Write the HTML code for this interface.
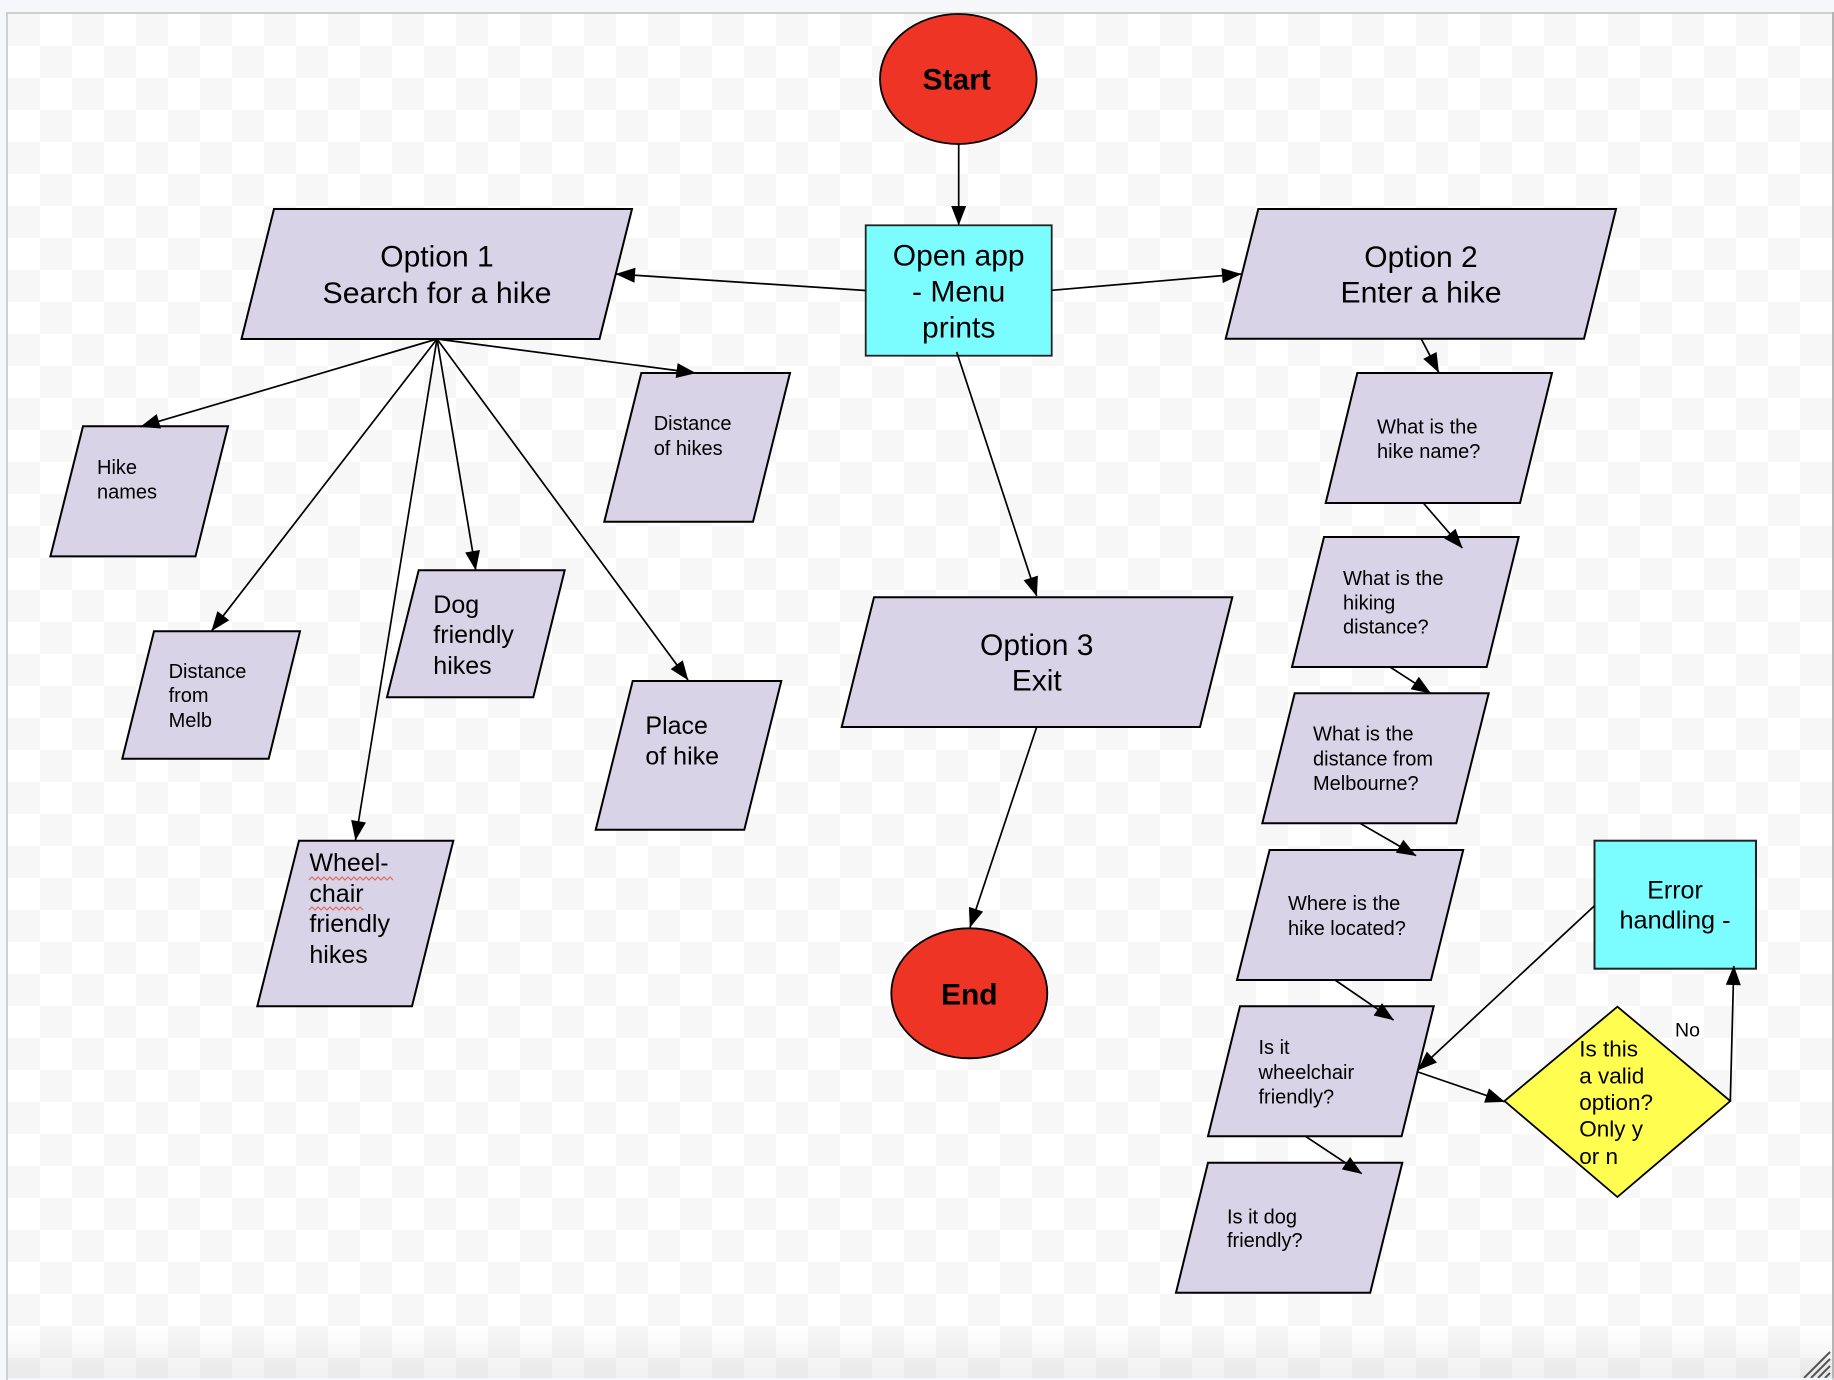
<!DOCTYPE html>
<html>
<head>
<meta charset="utf-8">
<title>Hike app flowchart</title>
<style>
html,body{margin:0;padding:0;width:1834px;height:1378px;overflow:hidden;background:#f5f7fa}
#c{position:absolute;left:6px;top:12px;width:1824px;height:1366px;border:2px solid #cfcfcf;border-bottom:0;box-sizing:content-box}
#k{position:absolute;left:8px;top:14px;width:1824px;height:1364px;background-color:#fff;
background-image:conic-gradient(#f7f7f7 25%,#fff 0 50%,#f7f7f7 0 75%,#fff 0);background-size:64px 64px;background-position:32px 0}
#g{position:absolute;left:8px;top:1325px;width:1824px;height:53px;background:linear-gradient(to bottom,rgba(0,0,0,0),rgba(0,0,0,.06))}
#r{position:absolute;left:1832px;top:12px;width:2px;height:1366px;background:#b5b5b5}
svg{position:absolute;left:0;top:0}
text{font-family:"Liberation Sans",Arial,sans-serif;fill:#000}
.s{fill:#d8d3e6;stroke:#000;stroke-width:2}
.l{stroke:#000;stroke-width:1.7;fill:none;marker-end:url(#a)}
.t30{font-size:30px}.t25{font-size:25px}.t20{font-size:20px}
.m{text-anchor:middle}
.b{font-weight:bold}
</style>
</head>
<body>
<div id="k"></div>
<div id="g"></div>
<div id="c"></div>
<div id="r"></div>
<svg width="1834" height="1378" viewBox="0 0 1834 1378" xmlns="http://www.w3.org/2000/svg">
<defs>
<marker id="a" markerUnits="userSpaceOnUse" markerWidth="20" markerHeight="16" refX="19" refY="7.5" orient="auto" overflow="visible">
<path d="M0,0 L19.5,7.5 L0,15 Z" fill="#000"/>
</marker>
</defs>

<ellipse cx="958.3" cy="79" rx="78.3" ry="65" fill="#ee3424" stroke="#000" stroke-width="1.8"/>
<ellipse cx="969.3" cy="993.3" rx="78" ry="65" fill="#ee3424" stroke="#000" stroke-width="1.8"/>
<rect x="865.7" y="225.3" width="186" height="130.4" fill="#7bfdff" stroke="#222" stroke-width="1.8"/>
<rect x="1594.5" y="840.7" width="161.5" height="128" fill="#7bfdff" stroke="#222" stroke-width="2"/>
<polygon points="1504.5,1101 1617.4,1006.7 1730.3,1101 1617.4,1197" fill="#fffd50" stroke="#000" stroke-width="1.8"/>

<polygon class="s" points="274,209 632,209 599.5,339 241.5,339"/>
<polygon class="s" points="1258.3,209 1616,209 1584,338.7 1225.7,338.7"/>
<polygon class="s" points="874,597.3 1232.3,597.3 1200,727 841.7,727"/>
<polygon class="s" points="83,426.3 228,426.3 195.5,556.4 50.4,556.4"/>
<polygon class="s" points="641.3,373 790,373 753,521.7 604.3,521.7"/>
<polygon class="s" points="632.7,681 781.3,681 744.3,829.7 595.7,829.7"/>
<polygon class="s" points="154,631.3 300,631.3 268.7,758.7 122.3,758.7"/>
<polygon class="s" points="418.7,570.3 564.7,570.3 533.3,697.3 387,697.3"/>
<polygon class="s" points="299,840.7 453.3,840.7 412,1006.3 257.3,1006.3"/>
<polygon class="s" points="1357.3,373 1552,373 1520,503 1325.7,503"/>
<polygon class="s" points="1324,537 1518.7,537 1486.7,667 1292,667"/>
<polygon class="s" points="1294.7,693.3 1488.7,693.3 1456.3,823.3 1262.3,823.3"/>
<polygon class="s" points="1269.6,850 1463.2,850 1431,980 1237,980"/>
<polygon class="s" points="1240,1006.3 1433.7,1006.3 1401.6,1136.3 1208,1136.3"/>
<polygon class="s" points="1208,1162.7 1402.3,1162.7 1370.2,1292.7 1176,1292.7"/>

<line class="l" x1="958.7" y1="144" x2="958.7" y2="225"/>
<line class="l" x1="1051.7" y1="290.3" x2="1241" y2="274"/>
<line class="l" x1="865.7" y1="290.5" x2="616" y2="274"/>
<line class="l" x1="956.7" y1="352" x2="1036.7" y2="596"/>
<line class="l" x1="1036.7" y1="727" x2="970" y2="927.3"/>

<line class="l" x1="437" y1="339" x2="140.6" y2="426.7"/>
<line class="l" x1="437" y1="339" x2="695.5" y2="373"/>
<line class="l" x1="437" y1="339" x2="475.7" y2="570"/>
<line class="l" x1="437" y1="339" x2="211.7" y2="630.7"/>
<line class="l" x1="437" y1="339" x2="355.5" y2="840"/>
<line class="l" x1="437" y1="339" x2="688" y2="680"/>

<line class="l" x1="1421.3" y1="339" x2="1438.7" y2="372.3"/>
<line class="l" x1="1423.3" y1="503" x2="1462.3" y2="548"/>
<line class="l" x1="1390" y1="667" x2="1430.7" y2="693.3"/>
<line class="l" x1="1360" y1="823.3" x2="1416" y2="855.7"/>
<line class="l" x1="1335" y1="980" x2="1393.5" y2="1020"/>
<line class="l" x1="1305.5" y1="1136.3" x2="1361.8" y2="1173.7"/>
<line class="l" x1="1594.5" y1="905.7" x2="1418" y2="1070"/>
<line class="l" x1="1418" y1="1072" x2="1504.5" y2="1101.7"/>
<line class="l" x1="1730.3" y1="1101" x2="1733.8" y2="966"/>

<text class="t30 b m" x="956.7" y="89.3">Start</text>
<text class="t30 b m" x="969.3" y="1004.3">End</text>
<text class="t30 m" x="958.7" y="265.5">Open app</text>
<text class="t30 m" x="958.7" y="301.5">- Menu</text>
<text class="t30 m" x="958.7" y="337.5">prints</text>
<text class="t30 m" x="437" y="266.7">Option 1</text>
<text class="t30 m" x="437" y="303" textLength="229" lengthAdjust="spacingAndGlyphs">Search for a hike</text>
<text class="t30 m" x="1421" y="266.8">Option 2</text>
<text class="t30 m" x="1421" y="302.7" textLength="161" lengthAdjust="spacingAndGlyphs">Enter a hike</text>
<text class="t30 m" x="1036.7" y="655">Option 3</text>
<text class="t30 m" x="1036.7" y="690.7">Exit</text>

<text class="t20" x="97" y="474.2">Hike</text>
<text class="t20" x="97" y="498.7">names</text>
<text class="t20" x="653.7" y="430">Distance</text>
<text class="t20" x="653.7" y="455">of hikes</text>
<text class="t25" x="645.4" y="734">Place</text>
<text class="t25" x="645.4" y="764.3">of hike</text>
<text class="t20" x="168.6" y="678">Distance</text>
<text class="t20" x="168.6" y="702">from</text>
<text class="t20" x="168.6" y="727">Melb</text>
<text class="t25" x="433.3" y="613">Dog</text>
<text class="t25" x="433.3" y="643">friendly</text>
<text class="t25" x="433.3" y="674">hikes</text>
<text class="t25" x="309.4" y="871.2">Wheel-</text>
<text class="t25" x="309.4" y="902">chair</text>
<text class="t25" x="309.4" y="932.2">friendly</text>
<text class="t25" x="309.4" y="962.8">hikes</text>
<path d="M309 880l3-3 3 3 3-3 3 3 3-3 3 3 3-3 3 3 3-3 3 3 3-3 3 3 3-3 3 3 3-3 3 3 3-3 3 3 3-3 3 3 3-3 3 3 3-3 3 3 3-3 3 3 3-3 3 3" fill="none" stroke="#e06a5f" stroke-width="1.2"/>
<path d="M309 910l3-3 3 3 3-3 3 3 3-3 3 3 3-3 3 3 3-3 3 3 3-3 3 3 3-3 3 3 3-3 3 3 3-3 3 3" fill="none" stroke="#e06a5f" stroke-width="1.2"/>

<text class="t20" x="1377" y="433.3" textLength="100.5" lengthAdjust="spacingAndGlyphs">What is the</text>
<text class="t20" x="1377" y="458">hike name?</text>
<text class="t20" x="1343" y="585" textLength="100.5" lengthAdjust="spacingAndGlyphs">What is the</text>
<text class="t20" x="1343" y="609.3">hiking</text>
<text class="t20" x="1343" y="633.7">distance?</text>
<text class="t20" x="1313" y="740.7" textLength="100.5" lengthAdjust="spacingAndGlyphs">What is the</text>
<text class="t20" x="1313" y="765.7">distance from</text>
<text class="t20" x="1313" y="790">Melbourne?</text>
<text class="t20" x="1288" y="910">Where is the</text>
<text class="t20" x="1288" y="935">hike located?</text>
<text class="t20" x="1258.5" y="1053.8">Is it</text>
<text class="t20" x="1258.5" y="1079">wheelchair</text>
<text class="t20" x="1258.5" y="1103.3">friendly?</text>
<text class="t20" x="1227" y="1223.3">Is it dog</text>
<text class="t20" x="1227" y="1247">friendly?</text>

<text class="t25 m" x="1675" y="898.3">Error</text>
<text class="t25 m" x="1675" y="928.3" textLength="111" lengthAdjust="spacingAndGlyphs">handling -</text>
<g style="font-size:22.5px">
<text x="1579.2" y="1056.7">Is this</text>
<text x="1579.2" y="1083.3">a valid</text>
<text x="1579.2" y="1110">option?</text>
<text x="1579.2" y="1136.7">Only y</text>
<text x="1579.2" y="1164">or n</text>
</g>
<text x="1675" y="1036.7" style="font-size:19.5px">No</text>

<g stroke="#555" stroke-width="2" fill="none">
<line x1="1804" y1="1378" x2="1830" y2="1352"/>
<line x1="1811" y1="1378" x2="1830" y2="1359"/>
<line x1="1818" y1="1378" x2="1830" y2="1366"/>
<line x1="1825" y1="1378" x2="1830" y2="1373"/>
</g>
</svg>
</body>
</html>
